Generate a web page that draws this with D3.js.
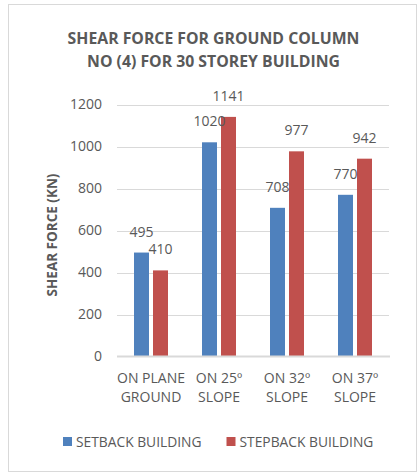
<!DOCTYPE html>
<html>
<head>
<meta charset="utf-8">
<script src="https://cdn.jsdelivr.net/npm/d3@7"></script>
<style>
  html, body { margin: 0; padding: 0; background: #ffffff; }
  svg { display: block; font-family: "Open Sans", "Noto Sans", sans-serif; }
</style>
</head>
<body>
<svg id="chart" width="419" height="474"></svg>
<script>
// Shear force in the ground column (No. 4) of a 30-storey building
const categories = [["ON PLANE", "GROUND"], ["ON 25º", "SLOPE"], ["ON 32º", "SLOPE"], ["ON 37º", "SLOPE"]];
const seriesNames = ["SETBACK BUILDING", "STEPBACK BUILDING"];
const setbackValues = [495, 1020, 708, 770];
const stepbackValues = [410, 1141, 977, 942];
const yTicks = [0, 200, 400, 600, 800, 1000, 1200];
const titleLines = ["SHEAR FORCE FOR GROUND COLUMN", "NO (4) FOR 30 STOREY BUILDING"];
const yTitle = "SHEAR FORCE (KN)";

const colors = ["#4f81bd", "#c0504d"];
const textColor = "#595959";
const gridColor = "#d9d9d9";

const svg = d3.select("#chart");

// chart frame
svg.append("rect")
  .attr("x", 8.5).attr("y", 4.5).attr("width", 408).attr("height", 467)
  .attr("fill", "#fff").attr("stroke", "#d9d9d9").attr("stroke-width", 1);

const catKeys = categories.map(c => c.join(" "));
const x0 = d3.scaleBand().domain(catKeys).range([117, 389]).paddingInner(0.5).paddingOuter(0.25);
const x1 = d3.scaleBand().domain(seriesNames).range([0, x0.bandwidth()]).paddingInner(4 / 19);
const y = d3.scaleLinear().domain([0, 1200]).range([356.5, 104.5]);

// gridlines
svg.append("g").selectAll("line")
  .data(yTicks.filter(t => t > 0))
  .join("line")
  .attr("x1", 117).attr("x2", 389)
  .attr("y1", d => Math.round(y(d)) + 0.5).attr("y2", d => Math.round(y(d)) + 0.5)
  .attr("stroke", gridColor).attr("stroke-width", 1);

// y axis tick labels
const yAxis = d3.axisLeft(y).tickValues(yTicks).tickSize(0).tickPadding(0).tickFormat(d3.format("d"));
const yG = svg.append("g").attr("transform", "translate(102,0)").call(yAxis);
yG.select(".domain").remove();
yG.selectAll("text").attr("fill", textColor).attr("font-size", 14)
  .attr("font-family", "'Open Sans', sans-serif");

// bars
const rows = catKeys.map((k, i) => ({ key: k, values: [setbackValues[i], stepbackValues[i]] }));
const groups = svg.append("g").selectAll("g")
  .data(rows).join("g")
  .attr("transform", d => `translate(${x0(d.key)},0)`);

groups.selectAll("rect")
  .data(d => d.values.map((v, j) => ({ name: seriesNames[j], value: v, j })))
  .join("rect")
  .attr("x", d => x1(d.name))
  .attr("y", d => y(d.value))
  .attr("width", x1.bandwidth())
  .attr("height", d => y(0) - y(d.value))
  .attr("fill", d => colors[d.j]);

groups.selectAll("text")
  .data(d => d.values.map((v, j) => ({ name: seriesNames[j], value: v, j })))
  .join("text")
  .attr("x", d => x1(d.name) + x1.bandwidth() / 2)
  .attr("y", d => y(d.value) - 16)
  .attr("text-anchor", "middle")
  .attr("font-size", 14)
  .attr("fill", textColor)
  .text(d => d.value);

// baseline
svg.append("line")
  .attr("x1", 117).attr("x2", 390)
  .attr("y1", y(0)).attr("y2", y(0))
  .attr("stroke", gridColor).attr("stroke-width", 2);

// category labels
const xG = svg.append("g");
categories.forEach((lines, i) => {
  const cx = x0(catKeys[i]) + x0.bandwidth() / 2;
  const t = xG.append("text")
    .attr("x", cx)
    .attr("y", 383)
    .attr("text-anchor", "middle")
    .attr("font-size", 14)
    .attr("fill", textColor);
  lines.forEach((ln, k) => {
    t.append("tspan").attr("x", cx).attr("dy", k === 0 ? 0 : 19).text(ln);
  });
});

// title
svg.append("text")
  .attr("x", 213.5).attr("y", 43.5)
  .attr("text-anchor", "middle").attr("font-size", 15.8).attr("font-weight", "bold")
  .attr("fill", textColor)
  .selectAll("tspan").data(titleLines).join("tspan")
  .attr("x", 213.5).attr("dy", (d, i) => i === 0 ? 0 : 23)
  .text(d => d);

// y axis title
svg.append("text")
  .attr("transform", "translate(57,235) rotate(-90)")
  .attr("text-anchor", "middle").attr("font-size", 13.5).attr("font-weight", "bold")
  .attr("fill", textColor)
  .text(yTitle);

// legend
const legendX = [63, 226.5];
const legend = svg.append("g").selectAll("g")
  .data(seriesNames).join("g")
  .attr("transform", (d, i) => `translate(${legendX[i]},437)`);
legend.append("rect").attr("width", 9).attr("height", 9).attr("fill", (d, i) => colors[i]);
legend.append("text").attr("x", 13).attr("y", 9.8)
  .attr("font-size", 13.8).attr("fill", textColor).text(d => d);
</script>
</body>
</html>
